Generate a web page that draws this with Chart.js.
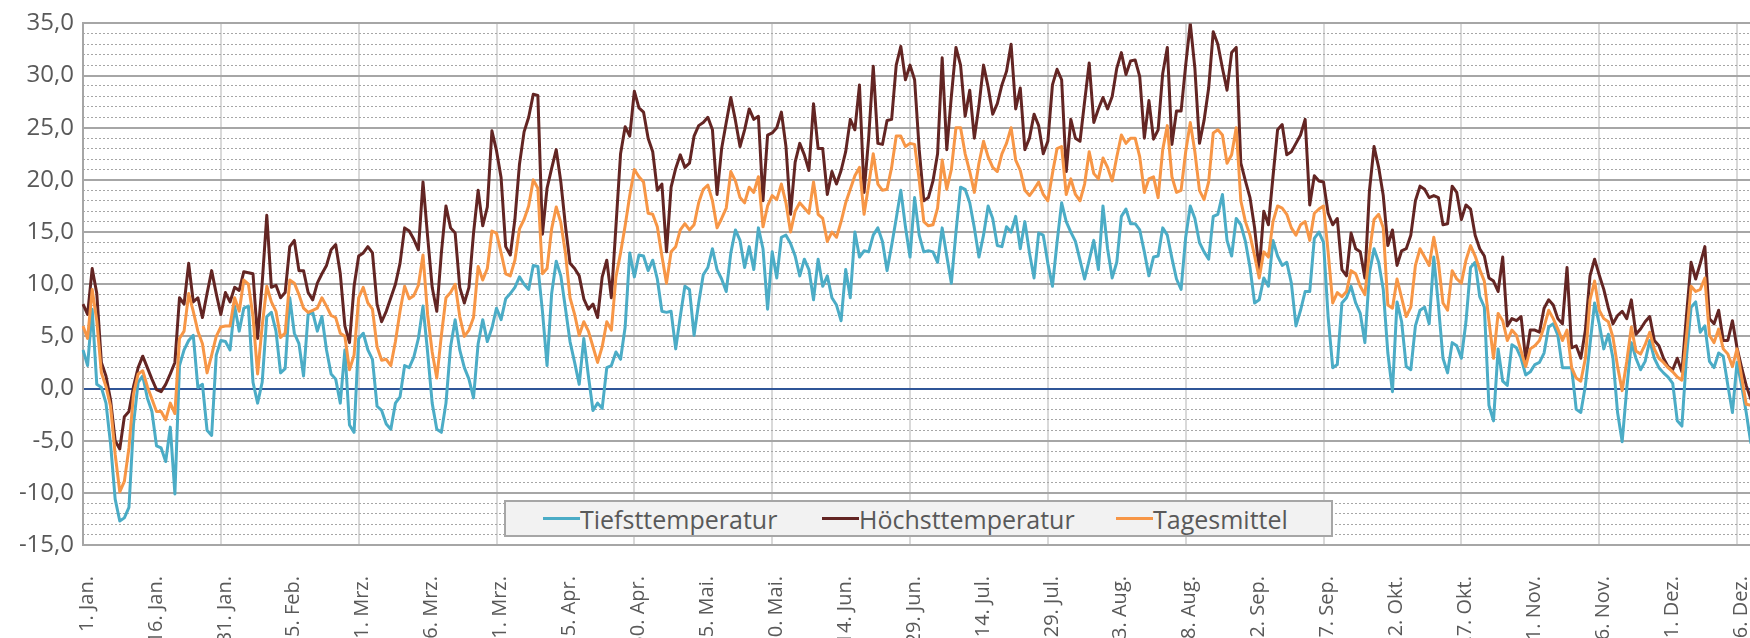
<!DOCTYPE html>
<html>
<head>
<meta charset="utf-8">
<script src="https://cdn.jsdelivr.net/npm/chart.js@4.4.1/dist/chart.umd.min.js"></script>
<style>
  html, body { margin: 0; padding: 0; background: #fff; overflow: hidden; }
  #wrap { position: relative; width: 1760px; height: 700px; }
  #legend { position: absolute; left: 504px; top: 500px; width: 825px; height: 33px; background: #f2f2f2;
            border: 2px solid #a6a6a6; font-family: 'Open Sans', sans-serif; font-size: 25px; color: #595959; }
  .item { position: absolute; top: 0; height: 33px; display: flex; align-items: center; white-space: nowrap; }
  .swatch { display: inline-block; width: 37px; height: 3px; }
</style>
</head>
<body>
<div id="wrap">
  <canvas id="tempChart" width="1760" height="700"></canvas>
  <div id="legend"></div>
</div>
<script>
const monthNames = ['Jan.', 'Feb.', 'Mrz.', 'Apr.', 'Mai.', 'Jun.', 'Jul.', 'Aug.', 'Sep.', 'Okt.', 'Nov.', 'Dez.'];
const monthDays = [31, 29, 31, 30, 31, 30, 31, 31, 30, 31, 30, 31];
const yTicks = [-15, -10, -5, 0, 5, 10, 15, 20, 25, 30, 35];

const tiefst = [
  3.7, 2.2, 7.6, 0.4, 0.1, -1.4, -5.3, -10.6, -12.7, -12.4,
  -11.4, -3.4, 0.6, 1.2, -0.9, -2.2, -5.5, -5.7, -7.0, -3.7,
  -10.1, 2.2, 3.7, 4.6, 5.1, 0.1, 0.4, -4.0, -4.5, 3.2,
  4.6, 4.5, 3.7, 7.9, 5.5, 7.7, 7.9, 0.6, -1.4, 0.6,
  6.9, 7.3, 5.5, 1.5, 1.9, 8.7, 5.3, 4.3, 1.2, 7.1,
  7.3, 5.5, 6.9, 3.7, 1.4, 0.9, -1.4, 3.7, -3.5, -4.2,
  4.8, 5.3, 3.7, 2.8, -1.7, -2.1, -3.4, -3.9, -1.4, -0.8,
  2.2, 2.0, 3.0, 4.8, 7.9, 3.5, -1.4, -3.9, -4.2, -1.4,
  4.0, 6.6, 3.7, 2.0, 0.9, -0.9, 4.3, 6.6, 4.5, 5.8,
  7.7, 6.6, 8.6, 9.1, 9.7, 10.7, 10.0, 9.5, 11.8, 11.7,
  7.4, 2.2, 9.1, 12.2, 10.8, 7.7, 4.5, 2.5, 0.4, 4.8,
  1.2, -2.1, -1.4, -1.9, 2.0, 2.2, 3.5, 2.8, 5.9, 13.0,
  10.7, 12.8, 12.7, 11.3, 12.3, 10.5, 7.4, 7.3, 7.4, 3.8,
  6.9, 9.8, 9.5, 5.1, 8.2, 10.9, 11.6, 13.4, 11.4, 10.5,
  9.3, 13.0, 15.2, 14.2, 11.6, 13.6, 11.4, 15.4, 13.4, 7.6,
  13.1, 10.6, 14.5, 14.7, 13.9, 12.7, 10.8, 12.4, 11.4, 8.5,
  12.4, 9.8, 10.8, 8.7, 8.0, 6.5, 11.4, 8.7, 15.0, 12.6,
  13.2, 13.1, 14.7, 15.4, 14.1, 11.3, 13.7, 16.3, 19.0, 15.5,
  12.6, 18.3, 14.7, 13.1, 13.2, 13.1, 12.1, 15.4, 12.7, 10.1,
  15.0, 19.3, 19.1, 17.8, 15.4, 12.6, 14.7, 17.5, 16.3, 13.7,
  13.6, 15.5, 15.0, 16.5, 13.4, 16.0, 13.0, 10.6, 14.9, 14.7,
  12.0, 9.8, 14.0, 17.8, 16.0, 15.0, 14.1, 12.3, 10.5, 12.3,
  14.2, 11.4, 17.5, 13.4, 10.6, 12.1, 16.5, 17.2, 15.8, 15.8,
  15.2, 13.1, 10.8, 12.6, 12.7, 15.4, 14.7, 12.5, 10.5, 9.5,
  14.5, 17.5, 16.3, 14.0, 13.1, 12.4, 16.5, 16.7, 18.6, 14.2,
  12.7, 16.3, 15.7, 14.1, 11.6, 8.2, 8.5, 10.6, 9.8, 14.2,
  12.7, 11.8, 12.1, 10.1, 6.0, 7.5, 9.3, 9.3, 14.4, 15.0,
  14.0, 6.9, 2.0, 2.3, 8.2, 8.7, 9.8, 8.2, 7.2, 4.4,
  11.1, 13.4, 12.1, 9.5, 3.4, -0.3, 8.3, 6.4, 2.1, 1.8,
  6.0, 7.5, 7.8, 6.2, 12.6, 8.0, 2.9, 1.5, 4.4, 4.1,
  2.9, 6.4, 11.6, 12.1, 8.8, 7.8, -1.6, -3.1, 3.8, 0.7,
  0.3, 4.2, 3.9, 2.9, 1.3, 1.6, 2.3, 2.5, 3.4, 5.9,
  6.2, 5.1, 2.0, 2.0, 2.0, -2.0, -2.3, 0.3, 4.2, 8.2,
  6.2, 3.8, 5.2, 2.9, -2.3, -5.1, 0.0, 4.4, 2.9, 1.8,
  2.6, 4.6, 2.9, 2.0, 1.5, 1.1, 0.5, -3.1, -3.6, 3.0,
  7.8, 8.3, 5.4, 6.0, 2.6, 2.0, 3.4, 3.1, 0.3, -2.3,
  2.5, 0.3, -2.3, -5.2, -3.0, -1.0
];

const hoechst = [
  8.1, 7.1, 11.5, 9.1, 2.5, 1.2, -1.1, -5.0, -5.8, -2.7,
  -2.2, 0.2, 2.0, 3.1, 2.0, 0.9, -0.1, -0.3, 0.4, 1.4,
  2.5, 8.7, 8.1, 12.0, 8.3, 8.7, 6.8, 9.1, 11.3, 9.1,
  7.1, 9.2, 8.3, 9.7, 9.4, 11.2, 11.1, 11.0, 4.8, 10.1,
  16.6, 9.7, 9.9, 8.7, 9.2, 13.6, 14.2, 11.3, 11.3, 9.2,
  8.5, 10.1, 11.0, 11.8, 13.3, 13.8, 11.0, 6.0, 4.4, 9.8,
  12.7, 13.0, 13.6, 13.0, 8.1, 6.4, 7.4, 8.7, 10.0, 12.0,
  15.4, 15.1, 14.3, 13.3, 19.8, 14.6, 9.7, 7.4, 13.0, 17.5,
  15.4, 14.9, 9.7, 8.2, 9.7, 14.9, 19.0, 15.6, 17.4, 24.7,
  22.8, 20.2, 13.6, 12.8, 16.2, 21.5, 24.6, 26.0, 28.2, 28.1,
  14.8, 19.2, 21.1, 22.9, 19.8, 15.6, 12.0, 11.5, 10.8, 8.6,
  7.6, 8.1, 6.8, 10.7, 12.3, 8.7, 15.6, 22.5, 25.1, 24.2,
  28.5, 26.9, 26.5, 24.0, 22.7, 19.0, 19.6, 13.1, 19.3, 21.1,
  22.4, 21.2, 21.6, 24.2, 25.2, 25.5, 26.0, 24.8, 18.6, 23.0,
  25.5, 27.9, 25.7, 23.2, 24.8, 26.8, 25.8, 26.1, 18.0, 24.3,
  24.5, 25.0, 26.5, 23.2, 16.7, 21.7, 23.5, 22.4, 20.9, 27.3,
  23.0, 23.0, 18.6, 20.8, 19.6, 20.9, 22.7, 25.8, 24.8, 29.1,
  18.8, 24.0, 30.9, 23.5, 23.4, 25.7, 25.8, 31.0, 32.8, 29.6,
  31.0, 29.6, 22.9, 18.0, 18.3, 19.9, 22.5, 31.7, 22.9, 28.0,
  32.7, 31.0, 26.1, 28.6, 24.0, 27.1, 31.0, 28.9, 26.3, 27.3,
  29.1, 30.4, 33.0, 26.8, 28.8, 22.9, 24.0, 26.3, 25.2, 22.5,
  23.7, 29.1, 30.6, 29.6, 20.8, 25.8, 24.0, 23.7, 27.5, 31.2,
  25.5, 26.8, 27.9, 26.8, 28.0, 30.7, 32.2, 30.1, 31.4, 31.5,
  29.9, 24.0, 27.6, 23.9, 24.8, 30.2, 32.7, 23.4, 26.6, 26.6,
  31.0, 35.0, 30.7, 23.5, 25.7, 28.8, 34.2, 33.0, 30.7, 28.6,
  32.2, 32.7, 21.6, 19.9, 18.3, 15.4, 11.3, 17.0, 15.7, 20.3,
  24.8, 25.3, 22.4, 22.7, 23.5, 24.3, 25.8, 17.6, 20.4, 19.9,
  19.8, 16.8, 15.7, 16.3, 11.4, 10.8, 14.9, 13.4, 13.1, 10.6,
  19.0, 23.2, 21.2, 18.5, 13.7, 15.2, 11.8, 13.2, 13.4, 14.7,
  18.0, 19.4, 19.1, 18.3, 18.5, 18.3, 15.7, 15.8, 19.4, 18.8,
  16.2, 17.6, 17.2, 14.7, 13.4, 12.7, 10.6, 10.3, 9.3, 12.6,
  6.0, 6.7, 6.5, 6.9, 2.8, 5.6, 5.6, 5.4, 7.7, 8.5,
  8.0, 6.7, 6.2, 11.6, 3.9, 4.1, 2.9, 5.6, 10.8, 12.4,
  10.9, 9.5, 7.7, 6.2, 7.0, 7.4, 6.7, 8.5, 5.2, 5.7,
  6.4, 6.9, 4.6, 4.1, 2.9, 2.1, 1.8, 2.9, 1.6, 7.0,
  12.1, 10.5, 12.0, 13.6, 6.7, 6.2, 7.5, 4.6, 4.6, 6.5,
  3.9, 2.0, 0.3, -1.0, 2.0, 4.0
];

const mittel = [
  6.0, 4.8, 9.5, 6.5, 1.5, 0.2, -1.7, -6.3, -9.9, -8.9,
  -5.7, -0.5, 1.4, 1.7, 0.2, -1.0, -2.2, -2.2, -3.0, -1.4,
  -2.4, 4.8, 5.5, 9.1, 7.4, 5.5, 4.3, 1.5, 3.2, 5.0,
  5.9, 6.0, 6.0, 8.7, 7.4, 10.4, 10.0, 6.9, 1.4, 6.0,
  9.8, 8.3, 7.4, 4.9, 5.3, 10.4, 10.1, 9.0, 7.7, 7.3,
  7.5, 7.7, 8.7, 7.9, 7.0, 6.8, 5.3, 5.0, 1.8, 3.2,
  8.7, 9.7, 8.2, 7.6, 4.0, 2.7, 2.8, 2.2, 4.5, 7.4,
  9.8, 8.6, 8.9, 9.9, 12.8, 7.1, 3.5, 1.0, 5.1, 8.7,
  9.2, 10.0, 6.9, 5.0, 5.6, 6.8, 11.7, 10.4, 11.5, 15.1,
  14.9, 13.0, 11.0, 10.8, 12.3, 15.3, 16.2, 17.5, 20.0, 19.2,
  11.0, 11.5, 15.3, 17.4, 15.9, 13.0, 8.7, 7.1, 5.1, 6.4,
  5.5, 4.0, 2.5, 4.0, 6.4, 5.6, 10.7, 13.0, 15.6, 18.5,
  21.0, 20.3, 19.8, 16.8, 16.7, 15.5, 12.7, 10.1, 13.1, 13.6,
  15.2, 15.8, 15.2, 15.7, 17.8, 19.1, 19.5, 18.0, 15.4, 16.3,
  17.3, 20.8, 19.9, 18.3, 17.8, 19.3, 18.8, 20.3, 15.5, 17.5,
  18.5, 18.1, 19.6, 17.8, 15.0, 17.0, 17.8, 17.3, 16.8, 19.8,
  16.7, 16.3, 14.1, 15.0, 14.5, 16.0, 17.8, 19.1, 20.4, 21.2,
  16.7, 19.5, 22.5, 19.6, 19.0, 19.1, 21.2, 24.2, 24.2, 23.2,
  23.5, 23.4, 20.0, 16.0, 15.6, 15.7, 17.3, 21.9, 19.1, 21.0,
  25.0, 25.0, 22.5, 20.8, 18.8, 21.6, 23.7, 22.2, 21.2, 20.8,
  22.5, 23.5, 25.0, 21.9, 20.9, 19.0, 18.5, 19.1, 19.8, 18.6,
  18.0, 20.6, 23.0, 23.2, 18.6, 20.1, 18.6, 18.0, 19.6, 22.7,
  20.6, 20.1, 22.1, 21.2, 19.9, 22.2, 24.3, 23.5, 24.0, 24.0,
  22.2, 18.8, 20.1, 20.3, 18.3, 22.9, 25.2, 20.3, 18.8, 19.0,
  22.7, 25.5, 22.7, 19.0, 18.1, 19.8, 24.5, 24.8, 24.3, 21.6,
  22.4, 25.0, 18.0, 16.0, 14.7, 12.7, 10.6, 13.1, 12.6, 16.0,
  17.5, 17.3, 16.7, 15.4, 14.7, 15.7, 16.0, 14.2, 16.8, 17.2,
  17.5, 13.1, 8.2, 9.2, 8.8, 9.3, 11.3, 11.0, 9.8, 9.0,
  13.1, 16.2, 16.7, 15.4, 8.0, 7.7, 10.5, 8.7, 6.9, 7.8,
  11.8, 13.4, 12.6, 11.8, 14.5, 12.1, 8.2, 7.5, 11.3, 10.5,
  10.1, 12.3, 13.7, 12.7, 11.4, 10.3, 6.5, 2.9, 7.2, 6.5,
  4.6, 5.6, 5.1, 3.6, 2.1, 3.8, 4.1, 4.6, 5.9, 7.5,
  6.7, 5.7, 4.6, 5.6, 2.0, 1.0, 0.7, 2.9, 8.5, 10.3,
  7.5, 6.7, 6.4, 4.9, 2.1, -0.2, 2.6, 5.9, 3.6, 3.3,
  4.2, 5.4, 3.8, 2.9, 2.5, 2.0, 1.6, 1.1, 0.8, 5.0,
  9.8, 9.3, 9.5, 10.6, 5.1, 4.4, 5.7, 3.8, 3.3, 2.1,
  3.8, 1.1, -1.5, -1.6, -0.5, 1.5
];

const seriesNames = ['Tiefsttemperatur', 'Höchsttemperatur', 'Tagesmittel'];
const seriesColors = ['#4bacc6', '#632523', '#f79646'];

const days = [];
monthNames.forEach((m, mi) => {
  for (let d = 1; d <= monthDays[mi]; d++) days.push(d + '. ' + m);
});

// legend box sits inside the plot, like in the original
const legendLeft = [37, 316, 610];
const legendEl = document.getElementById('legend');
seriesNames.forEach((name, i) => {
  const item = document.createElement('div');
  item.className = 'item';
  item.style.left = legendLeft[i] + 'px';
  item.innerHTML = '<span class="swatch" style="background:' + seriesColors[i] + '"></span>' + name;
  legendEl.appendChild(item);
});

const tickFont = { family: 'Open Sans', size: 24 };
const ctx = document.getElementById('tempChart').getContext('2d');
new Chart(ctx, {
  type: 'line',
  data: {
    labels: days,
    datasets: [
      { label: seriesNames[0], data: tiefst, borderColor: seriesColors[0], borderWidth: 3, order: 3 },
      { label: seriesNames[1], data: hoechst, borderColor: seriesColors[1], borderWidth: 3, order: 2 },
      { label: seriesNames[2], data: mittel, borderColor: seriesColors[2], borderWidth: 3, order: 1 }
    ]
  },
  options: {
    responsive: false,
    animation: false,
    devicePixelRatio: 1,
    layout: { padding: { top: 19, right: 0, bottom: 0, left: 0 } },
    elements: { point: { radius: 0 }, line: { tension: 0, borderJoinStyle: 'round' } },
    plugins: { legend: { display: false }, tooltip: { enabled: false } },
    scales: {
      x: {
        grid: { color: c => c.index % 30 === 0 ? '#d9d9d9' : 'rgba(0,0,0,0)', lineWidth: 2, drawTicks: false },
        border: { display: false },
        ticks: {
          autoSkip: false, maxRotation: 90, minRotation: 90, padding: 31, labelOffset: 4, color: '#595959',
          font: { family: 'Open Sans', size: 20 },
          callback: (v, i) => i % 15 === 0 ? days[i] : ''
        },
        afterFit: s => { s.height = 155; s.paddingLeft = 0; s.paddingRight = 0; }
      },
      y: {
        min: yTicks[0], max: yTicks[yTicks.length - 1],
        afterBuildTicks: s => { s.ticks = yTicks.map(v => ({ value: v })); },
        ticks: { padding: 9, color: '#595959', font: tickFont, callback: v => v.toFixed(1).replace('.', ',') },
        grid: { color: c => c.tick.value === 0 ? '#2f5597' : '#a6a6a6', lineWidth: 2, drawTicks: false },
        border: { color: '#a6a6a6', width: 2 },
        afterFit: s => { s.width = 83; }
      },
      yMinor: {
        position: 'left',
        min: yTicks[0], max: yTicks[yTicks.length - 1],
        ticks: { display: false, stepSize: 1 },
        grid: { color: c => c.tick.value % 5 === 0 ? 'rgba(0,0,0,0)' : '#a6a6a6', lineWidth: 1, drawTicks: false },
        border: { display: false, dash: [2, 2] },
        afterFit: s => { s.width = 0; }
      }
    }
  }
});
</script>
</body>
</html>
